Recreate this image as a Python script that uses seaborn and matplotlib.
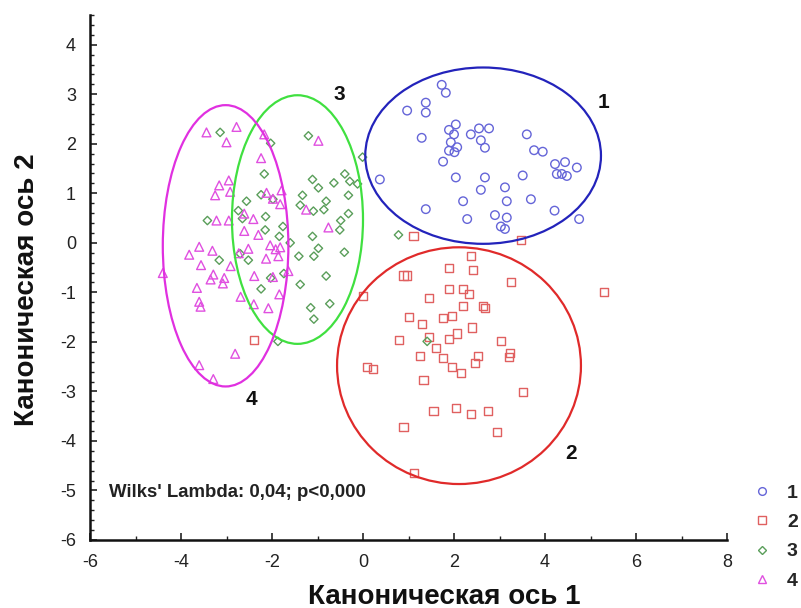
import numpy as np
import pandas as pd
import matplotlib
matplotlib.use("Agg")
import matplotlib.pyplot as plt
from matplotlib.patches import Ellipse
from matplotlib.ticker import MultipleLocator
import seaborn as sns

# ---- data ----
groups = ["1", "2", "3", "4"]

g1_x = [1.73,1.82,1.38,0.97,1.38,2.04,1.89,2.00,2.55,2.77,2.37,3.60,1.29,2.59,1.93,
        2.07,1.89,2.01,2.68,3.76,3.95,1.76,4.22,4.44,4.70,4.26,4.37,4.48,2.04,2.68,
        3.51,2.59,3.12,2.20,3.16,3.69,1.38,4.21,2.29,2.90,3.16,4.75,3.03,3.12,0.37]
g1_y = [3.19,3.03,2.83,2.67,2.63,2.39,2.28,2.19,2.31,2.31,2.19,2.19,2.12,2.07,2.03,
        1.93,1.86,1.83,1.92,1.87,1.84,1.64,1.59,1.63,1.52,1.39,1.39,1.35,1.32,1.32,
        1.36,1.07,1.12,0.84,0.84,0.88,0.68,0.65,0.48,0.56,0.51,0.48,0.33,0.28,1.28]

g2_x = [1.11,3.47,2.37,1.90,2.42,0.89,0.96,3.25,1.90,2.20,
        2.33,1.46,5.30,0.00,2.20,2.64,1.02,1.29,1.76,1.95,
        2.07,1.90,2.39,0.80,1.46,1.60,1.25,1.76,2.53,3.03,
        3.24,3.20,2.46,1.96,2.15,1.33,3.52,0.89,1.55,2.04,
        2.37,2.75,2.94,1.12,0.08,0.21,-2.40,2.68]
g2_y = [0.13,0.05,-0.27,-0.51,-0.55,-0.66,-0.66,-0.79,-0.94,-0.94,
        -1.04,-1.12,-0.99,-1.08,-1.27,-1.27,-1.50,-1.63,-1.51,-1.47,
        -1.83,-1.94,-1.71,-1.97,-1.91,-2.13,-2.29,-2.32,-2.29,-1.98,
        -2.22,-2.30,-2.43,-2.51,-2.63,-2.77,-3.02,-3.71,-3.39,-3.33,
        -3.46,-3.39,-3.82,-4.64,-2.51,-2.54,-1.97,-1.32]

g3_x = [-3.14,-2.03,-1.20,-2.17,-0.01,-1.11,-0.40,-0.64,-0.29,-0.12,
        -0.98,-1.33,-0.32,-2.56,-2.24,-1.98,-0.81,-1.38,-1.09,-0.86,
        -2.74,-2.65,-2.14,-3.42,-0.49,-0.32,-0.51,-1.76,-2.15,-1.11,
        -1.84,-1.60,-0.98,-0.41,-1.08,-1.41,-3.16,-2.52,-2.70,-2.24,
        -1.38,-0.81,-1.74,0.78,-1.15,-0.73,-1.08,-1.87,1.41,-2.03]
g3_y = [2.23,2.01,2.16,1.39,1.73,1.28,1.39,1.21,1.24,1.19,
        1.11,0.96,0.96,0.84,0.97,0.88,0.84,0.76,0.64,0.67,
        0.65,0.49,0.53,0.45,0.45,0.59,0.26,0.33,0.26,0.13,
        0.13,0.00,-0.11,-0.19,-0.27,-0.27,-0.35,-0.35,-0.22,-0.93,
        -0.84,-0.67,-0.62,0.16,-1.31,-1.23,-1.54,-1.99,-1.99,-0.71]

g4_x = [-3.44,-2.78,-3.00,-2.17,-0.98,-2.24,-3.16,-2.95,-3.25,-2.92,
        -2.12,-1.98,-1.79,-1.82,-2.61,-2.41,-3.22,-2.95,-2.61,-2.30,
        -1.25,-0.76,-3.82,-3.60,-3.31,-3.56,-2.91,-2.73,-2.52,-2.04,
        -1.82,-2.13,-1.86,-1.92,-1.64,-3.29,-3.35,-3.05,-3.08,-2.39,
        -1.98,-3.65,-2.69,-1.84,-4.40,-3.60,-3.57,-2.40,-2.08,-2.81,
        -3.60,-3.29]
g4_y = [2.23,2.34,2.03,2.19,2.06,1.71,1.16,1.26,0.96,1.03,
        1.01,0.89,1.06,0.78,0.59,0.48,0.45,0.45,0.24,0.16,
        0.67,0.31,-0.24,-0.08,-0.16,-0.45,-0.47,-0.21,-0.12,-0.05,
        -0.09,-0.32,-0.27,-0.13,-0.57,-0.64,-0.74,-0.71,-0.82,-0.67,
        -0.69,-0.91,-1.09,-1.04,-0.61,-1.19,-1.29,-1.24,-1.32,-2.24,
        -2.47,-2.75]

# confidence ellipses (centre, semi-axes)
ell_cx = [2.64, 2.11, -1.44, -3.02]
ell_cy = [1.76, -2.48, 0.47, -0.06]
ell_rx = [2.59, 2.68, 1.44, 1.38]
ell_ry = [1.78, 2.39, 2.51, 2.84]

# group number annotations
label_x = [5.28, 4.57, -0.53, -2.46]
label_y = [2.84, -4.26, 3.00, -3.16]

xticks = [-6, -4, -2, 0, 2, 4, 6, 8]
yticks = [-6, -5, -4, -3, -2, -1, 0, 1, 2, 3, 4]
annotation = "Wilks' Lambda: 0,04; p<0,000"
xlabel = "Каноническая ось 1"
ylabel = "Каноническая ось 2"

# ---- styling ----
marker_colors = ["#6565d8", "#e06060", "#5a9e5a", "#e050e0"]
ellipse_colors = ["#2323bb", "#e02a2a", "#40e040", "#e030e0"]
markers = ["o", "s", "D", "^"]
msizes = [38, 34, 18, 40]

sns.set_style("ticks")
plt.rcParams["font.family"] = ["Liberation Sans", "DejaVu Sans"]
plt.rcParams["axes.unicode_minus"] = False

df = pd.concat([
    pd.DataFrame({"x": gx, "y": gy, "group": g})
    for gx, gy, g in zip([g1_x, g2_x, g3_x, g4_x], [g1_y, g2_y, g3_y, g4_y], groups)
], ignore_index=True)

fig = plt.figure(figsize=(8.01, 6.08), dpi=100)
ax = fig.add_axes([90 / 801, 1 - 540 / 608, 637 / 801, 525 / 608])

handles = []
for i, g in enumerate(groups):
    sub = df[df["group"] == g]
    sns.scatterplot(data=sub, x="x", y="y", ax=ax, marker=markers[i], s=msizes[i],
                    facecolor="none", edgecolor=marker_colors[i], linewidth=1.0,
                    color=marker_colors[i], legend=False, zorder=3)
    handles.append(plt.Line2D([], [], linestyle="none", marker=markers[i],
                              markersize=np.sqrt(msizes[i]) * 0.9, markerfacecolor="none",
                              markeredgecolor=marker_colors[i], markeredgewidth=1.0))

for i in range(4):
    ax.add_patch(Ellipse((ell_cx[i], ell_cy[i]), 2 * ell_rx[i], 2 * ell_ry[i],
                         fill=False, edgecolor=ellipse_colors[i], linewidth=1.6, zorder=4))
    ax.text(label_x[i], label_y[i], groups[i], fontsize=15, fontweight="bold",
            ha="center", va="center", color="#111111")

ax.text(-5.58, -5.04, annotation, fontsize=13.4, fontweight="bold",
        ha="left", va="center", color="#222222")

ax.set_xlim(-6, 8)
ax.set_ylim(-6, 4.6)
ax.set_xticks(xticks)
ax.set_yticks(yticks)
ax.xaxis.set_minor_locator(MultipleLocator(1))
ax.yaxis.set_minor_locator(MultipleLocator(0.2))
ax.tick_params(axis="both", which="major", direction="in", length=5, width=1.2,
               labelsize=13, colors="#222222", pad=10)
ax.tick_params(axis="both", which="minor", direction="in", length=3, width=1.0,
               colors="#222222")
for sp in ["top", "right"]:
    ax.spines[sp].set_visible(False)
for sp in ["left", "bottom"]:
    ax.spines[sp].set_linewidth(1.8)
    ax.spines[sp].set_color("#111111")

ax.set_xlabel(xlabel, fontsize=20, fontweight="bold", color="#111111")
ax.set_ylabel(ylabel, fontsize=20, fontweight="bold", color="#111111")
ax.xaxis.set_label_coords(0.556, -0.083)
ax.yaxis.set_label_coords(-0.078, 0.476)

ax.legend(handles, groups, loc="center left", bbox_to_anchor=(752 / 801, 1 - 537 / 608),
          bbox_transform=fig.transFigure, frameon=False, borderpad=0, borderaxespad=0,
          handlelength=1.0, handletextpad=0.8, labelspacing=0.6,
          prop={"weight": "bold", "size": 14})

fig.savefig("out.png", dpi=100)
